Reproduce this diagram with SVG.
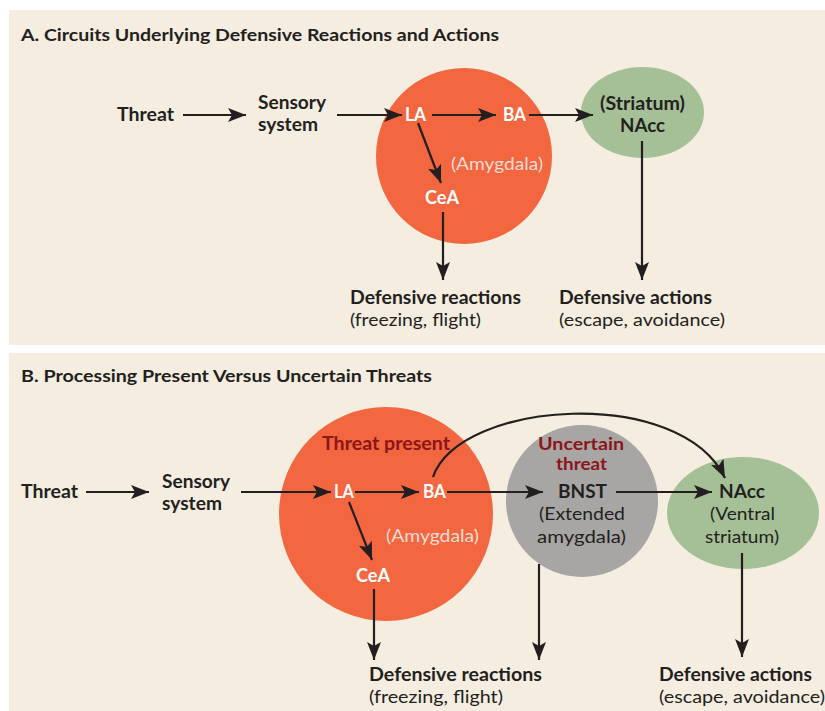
<svg xmlns="http://www.w3.org/2000/svg" width="825" height="711" viewBox="0 0 825 711">
<style>
text{font-family:Lato,"Liberation Sans",sans-serif;font-size:18px;fill:#231F20}
.b{font-weight:700}
.t{font-weight:700;font-size:17px}
.w{fill:#FFFFFF;font-weight:700}
.am{fill:#FCDCD0}
.dr{fill:#8C1517;font-weight:700}
.s{font-size:16.5px}
.c{text-anchor:middle}
.ln{stroke:#231F20;stroke-width:2.2;fill:none}
</style>
<defs>
<marker id="ah" markerUnits="userSpaceOnUse" markerWidth="20" markerHeight="16" viewBox="0 0 20 16" refX="18" refY="8" orient="auto">
<path d="M0,1 L18,8 L0,15 L4,8 Z" fill="#231F20"/>
</marker>
</defs>
<rect x="9" y="10" width="816" height="335" fill="#F5EDE0"/>
<rect x="9" y="353" width="816" height="358" fill="#F5EDE0"/>

<!-- Panel A -->
<g id="titleA"><text x="21" y="41" class="t" textLength="478" lengthAdjust="spacingAndGlyphs">A. Circuits Underlying Defensive Reactions and Actions</text></g>
<g id="A-amygdala"><circle cx="464" cy="156" r="88" fill="#F26640"/>
<text x="497" y="170" class="am c" textLength="92" lengthAdjust="spacingAndGlyphs">(Amygdala)</text></g>
<g id="A-nacc"><ellipse cx="642.5" cy="112.5" rx="61.5" ry="45.5" fill="#A5C096"/>
<text x="642.5" y="110" class="b c" textLength="85" lengthAdjust="spacingAndGlyphs">(Striatum)</text>
<text x="642.5" y="132" class="b c" textLength="45" lengthAdjust="spacingAndGlyphs">NAcc</text></g>
<g id="A-threat"><text x="117" y="121" class="b" textLength="57" lengthAdjust="spacingAndGlyphs">Threat</text></g>
<g id="A-sensory"><text x="258" y="109" class="b" textLength="68" lengthAdjust="spacingAndGlyphs">Sensory</text>
<text x="258" y="131" class="b" textLength="60" lengthAdjust="spacingAndGlyphs">system</text></g>
<g id="A-la"><text x="415.5" y="121" class="w c" textLength="21" lengthAdjust="spacingAndGlyphs">LA</text></g>
<g id="A-ba"><text x="514.5" y="121" class="w c" textLength="23" lengthAdjust="spacingAndGlyphs">BA</text></g>
<g id="A-cea"><text x="442" y="204" class="w c" textLength="34" lengthAdjust="spacingAndGlyphs">CeA</text></g>
<g id="A-reactions"><text x="350" y="304" class="b" textLength="171" lengthAdjust="spacingAndGlyphs">Defensive reactions</text>
<text x="350" y="326" textLength="131" lengthAdjust="spacingAndGlyphs">(freezing, flight)</text></g>
<g id="A-actions"><text x="559" y="304" class="b" textLength="153" lengthAdjust="spacingAndGlyphs">Defensive actions</text>
<text x="559" y="326" textLength="166" lengthAdjust="spacingAndGlyphs">(escape, avoidance)</text></g>

<!-- Panel B -->
<g id="titleB"><text x="21" y="382" class="t" textLength="411" lengthAdjust="spacingAndGlyphs">B. Processing Present Versus Uncertain Threats</text></g>
<g id="B-amygdala"><circle cx="386" cy="514" r="107" fill="#F26640"/>
<text x="386" y="450" class="dr c" textLength="128" lengthAdjust="spacingAndGlyphs">Threat present</text>
<text x="432.5" y="542" class="am c" textLength="93" lengthAdjust="spacingAndGlyphs">(Amygdala)</text></g>
<g id="B-bnst"><circle cx="582" cy="501" r="76" fill="#A7A6A5"/>
<text x="581" y="450" class="dr s c" textLength="86" lengthAdjust="spacingAndGlyphs">Uncertain</text>
<text x="581.5" y="470" class="dr s c" textLength="51" lengthAdjust="spacingAndGlyphs">threat</text>
<text x="582.5" y="498" class="b c" textLength="49" lengthAdjust="spacingAndGlyphs">BNST</text>
<text x="582" y="520" class="c" textLength="86" lengthAdjust="spacingAndGlyphs">(Extended</text>
<text x="581.5" y="543" class="c" textLength="89" lengthAdjust="spacingAndGlyphs">amygdala)</text></g>
<g id="B-nacc"><ellipse cx="743" cy="513" rx="76" ry="56" fill="#A5C096"/>
<text x="742" y="498" class="b c" textLength="46" lengthAdjust="spacingAndGlyphs">NAcc</text>
<text x="742.5" y="520" class="c" textLength="65" lengthAdjust="spacingAndGlyphs">(Ventral</text>
<text x="742" y="543" class="c" textLength="74" lengthAdjust="spacingAndGlyphs">striatum)</text></g>
<g id="B-threat"><text x="21" y="498" class="b" textLength="57" lengthAdjust="spacingAndGlyphs">Threat</text></g>
<g id="B-sensory"><text x="162" y="488" class="b" textLength="68" lengthAdjust="spacingAndGlyphs">Sensory</text>
<text x="162" y="510" class="b" textLength="60" lengthAdjust="spacingAndGlyphs">system</text></g>
<g id="B-la"><text x="344" y="498" class="w c" textLength="20" lengthAdjust="spacingAndGlyphs">LA</text></g>
<g id="B-ba"><text x="434.5" y="498" class="w c" textLength="23" lengthAdjust="spacingAndGlyphs">BA</text></g>
<g id="B-cea"><text x="373" y="582" class="w c" textLength="34" lengthAdjust="spacingAndGlyphs">CeA</text></g>
<g id="B-reactions"><text x="369" y="681" class="b" textLength="173" lengthAdjust="spacingAndGlyphs">Defensive reactions</text>
<text x="369" y="703" textLength="134" lengthAdjust="spacingAndGlyphs">(freezing, flight)</text></g>
<g id="B-actions"><text x="659" y="681" class="b" textLength="153" lengthAdjust="spacingAndGlyphs">Defensive actions</text>
<text x="659" y="703" textLength="166" lengthAdjust="spacingAndGlyphs">(escape, avoidance)</text></g>

<g id="connectors" class="ln">
<line class="ln" x1="183" y1="115" x2="246" y2="115" marker-end="url(#ah)"/>
<line class="ln" x1="337" y1="115" x2="402" y2="115" marker-end="url(#ah)"/>
<line class="ln" x1="432" y1="115" x2="496" y2="115" marker-end="url(#ah)"/>
<line class="ln" x1="529" y1="115" x2="593" y2="115" marker-end="url(#ah)"/>
<line class="ln" x1="418" y1="123" x2="441" y2="183" marker-end="url(#ah)"/>
<line class="ln" x1="443" y1="212" x2="443" y2="280" marker-end="url(#ah)"/>
<line class="ln" x1="642" y1="141" x2="642" y2="280" marker-end="url(#ah)"/>

<line class="ln" x1="86" y1="492" x2="149" y2="492" marker-end="url(#ah)"/>
<line class="ln" x1="241" y1="492" x2="331" y2="492" marker-end="url(#ah)"/>
<line class="ln" x1="355" y1="492" x2="419" y2="492" marker-end="url(#ah)"/>
<line class="ln" x1="447" y1="492" x2="543" y2="492" marker-end="url(#ah)"/>
<line class="ln" x1="616" y1="492" x2="712" y2="492" marker-end="url(#ah)"/>
<path class="ln" d="M433,477 C460,400 680,385 725,478" marker-end="url(#ah)"/>
<line class="ln" x1="349" y1="502" x2="372" y2="560" marker-end="url(#ah)"/>
<line class="ln" x1="374" y1="589" x2="374" y2="660" marker-end="url(#ah)"/>
<line class="ln" x1="539" y1="564" x2="539" y2="660" marker-end="url(#ah)"/>
<line class="ln" x1="742" y1="553" x2="742" y2="657" marker-end="url(#ah)"/>
</g>
</svg>
